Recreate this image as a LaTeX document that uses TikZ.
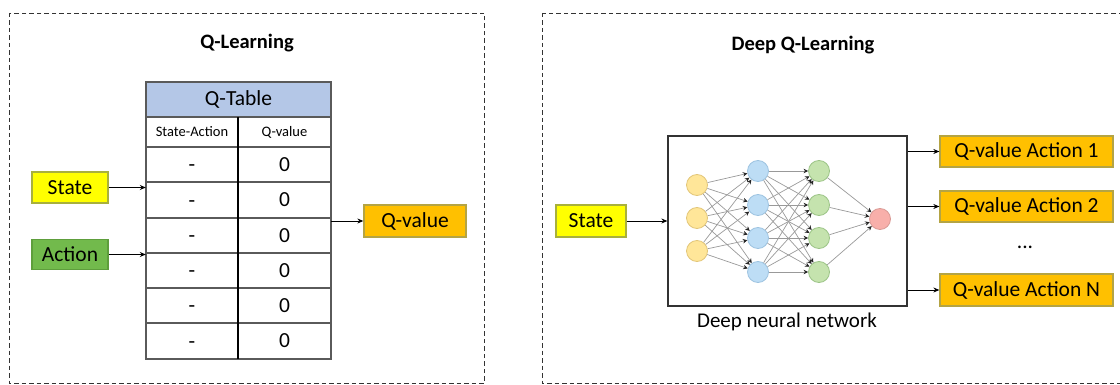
\documentclass[tikz,border=0pt]{standalone}
\usepackage{fontspec}
\setmainfont{Carlito}
\usetikzlibrary{arrows.meta}

\definecolor{stateY}{HTML}{FFFF00}
\definecolor{stateB}{HTML}{A8B03C}
\definecolor{actG}{HTML}{72BA4C}
\definecolor{actB}{HTML}{5E9E3C}
\definecolor{qvO}{HTML}{FFC000}
\definecolor{qvB}{HTML}{B4A444}
\definecolor{hdrB}{HTML}{B4C7E7}
\definecolor{tblL}{HTML}{5A5A5A}
\definecolor{nYel}{HTML}{FFE699}
\definecolor{nYelB}{HTML}{E2C679}
\definecolor{nBlu}{HTML}{BDDDF5}
\definecolor{nBluB}{HTML}{9DC3E0}
\definecolor{nGrn}{HTML}{C5E3AE}
\definecolor{nGrnB}{HTML}{9CC487}
\definecolor{nRed}{HTML}{F8AFAA}
\definecolor{nRedB}{HTML}{D99A95}

\tikzset{
  big/.style={font=\fontsize{21.5}{24}\selectfont},
  small/.style={font=\fontsize{14.5}{16}\selectfont},
  title/.style={font=\fontsize{20.5}{23}\selectfont\bfseries},
  panel/.style={draw=black!80, line width=0.9pt, dash pattern=on 4.5pt off 3pt},
  lbox/.style={rectangle, line width=1.3pt, inner sep=0pt, big},
  arr/.style={line width=0.9pt, -{Stealth[length=6pt,width=5pt]}},
  tline/.style={draw=tblL, line width=1.6pt},
  neuron/.style={circle, minimum size=21pt, inner sep=0pt, line width=0.8pt},
  syn/.style={draw=black!40, line width=0.7pt, -{Stealth[length=4.5pt,width=4.5pt,color=black!85]}},
}

\begin{document}
\begin{tikzpicture}[x=1pt,y=-1pt]
\useasboundingbox (0,0) rectangle (1120,385);
\clip (0,0) rectangle (1120,385);

% dashed panels
\draw[panel] (9,13) rectangle (484,383);
\draw[panel] (542,13) rectangle (1130,383);

% ---------------- Q-Learning ----------------
\node[title] (t1) at (247,43) {Q-Learning};

\node[minimum width=185pt, minimum height=277pt, inner sep=0pt] (qtable) at (238.5,220.5) {};
\fill[hdrB] (146,82) rectangle (331,117);
\foreach \y in {117,147,182,218,253,288,323}
  \draw[tline] (146,\y) -- (331,\y);
\draw[tline] (146,82) rectangle (331,359);
\draw[black, line width=1.1pt] (238,117) -- (238,359);

\node[big] (qthead) at (238.5,99.5) {Q-Table};
\node[small] (hsa) at (192,132) {State-Action};
\node[small] (hqv) at (284.5,132) {Q-value};
\foreach \y [count=\i] in {164.5,200,235.5,270.5,305.5,341}{
  \node[big, yshift=-4pt] (sa\i) at (192,\y) {-};
  \node[big] (qv\i) at (284.5,\y) {0};
}

\node[lbox, draw=stateB, fill=stateY, minimum width=76pt, minimum height=31pt] (state) at (70,187.5) {State};
\node[lbox, draw=actB, fill=actG, minimum width=76pt, minimum height=30pt] (action) at (70,254.5) {Action};
\node[lbox, draw=qvB, fill=qvO, minimum width=102pt, minimum height=32pt] (qval) at (415,221) {Q-value};

\draw[arr] (state.east) -- (qtable.west |- state.east);
\draw[arr] (action.east) -- (qtable.west |- action.east);
\draw[arr] (qtable.east |- qval.west) -- (qval.west);

% ---------------- Deep Q-Learning ----------------
\node[title] (t2) at (803,45) {Deep Q-Learning};

\node[draw=black!80, line width=1.3pt, minimum width=239pt, minimum height=170pt, inner sep=0pt] (dnn) at (787.5,221) {};
\node[font=\fontsize{21}{24}\selectfont] (dnnlab) at (787,322) {Deep neural network};

\node[lbox, draw=stateB, fill=stateY, minimum width=70pt, minimum height=32pt] (state2) at (591,221) {State};

\node[lbox, draw=qvB, fill=qvO, minimum width=173pt, minimum height=31pt] (qa1) at (1026.5,151.5) {Q-value Action 1};
\node[lbox, draw=qvB, fill=qvO, minimum width=173pt, minimum height=31pt] (qa2) at (1026.5,206.5) {Q-value Action 2};
\node[big] (dots) at (1025,247) {...};
\node[lbox, draw=qvB, fill=qvO, minimum width=173pt, minimum height=32pt] (qaN) at (1026.5,290) {Q-value Action N};

\draw[arr] (state2.east) -- (dnn.west);
\draw[arr] (dnn.east |- qa1.west) -- (qa1.west);
\draw[arr] (dnn.east |- qa2.west) -- (qa2.west);
\draw[arr] (dnn.east |- qaN.west) -- (qaN.west);

% network neurons
\foreach \y [count=\i] in {185,218,251}
  \node[neuron, draw=nYelB, fill=nYel] (in\i) at (697,\y) {};
\foreach \y [count=\i] in {171,205,238,272}{
  \node[neuron, draw=nBluB, fill=nBlu] (ha\i) at (758,\y) {};
  \node[neuron, draw=nGrnB, fill=nGrn] (hb\i) at (819,\y) {};
}
\node[neuron, draw=nRedB, fill=nRed] (out) at (880,219) {};

% synapses
\foreach \a in {1,2,3}
  \foreach \b in {1,2,3,4}
    \draw[syn] (in\a) -- (ha\b);
\foreach \a in {1,2,3,4}
  \foreach \b in {1,2,3,4}
    \draw[syn] (ha\a) -- (hb\b);
\foreach \a in {1,2,3,4}
  \draw[syn] (hb\a) -- (out);
\end{tikzpicture}
\end{document}
